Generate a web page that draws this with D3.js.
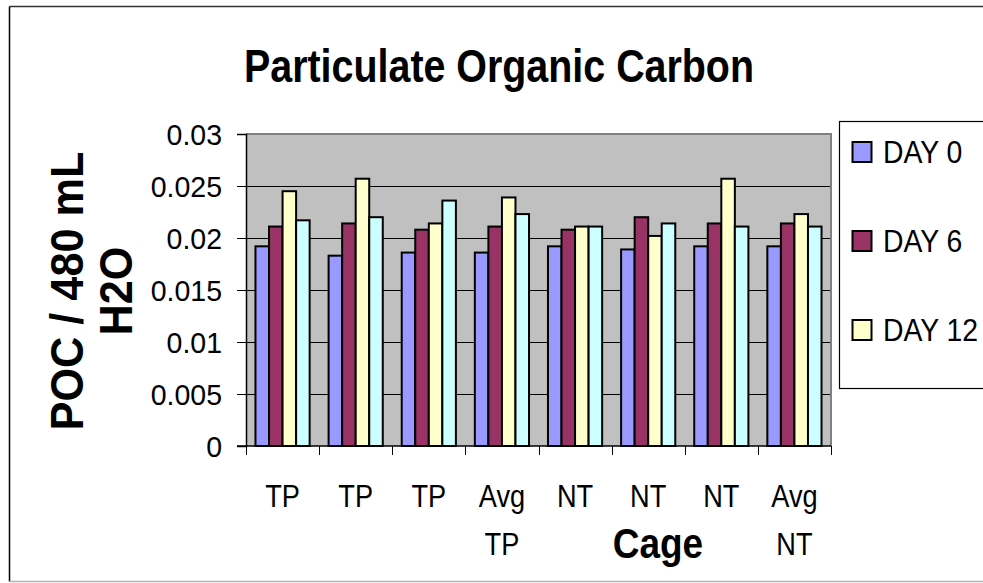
<!DOCTYPE html>
<html>
<head>
<meta charset="utf-8">
<script src="https://cdn.jsdelivr.net/npm/d3@7"></script>
<style>
  html, body { margin: 0; padding: 0; background: #fff; }
  svg { display: block; font-family: "Liberation Sans", Arial, sans-serif; }
</style>
</head>
<body>
<svg id="chart" width="983" height="583"></svg>
<script>
// categories (each label can wrap to two lines)
const cages = [["TP"], ["TP"], ["TP"], ["Avg", "TP"], ["NT"], ["NT"], ["NT"], ["Avg", "NT"]];
const seriesNames = ["DAY 0", "DAY 6", "DAY 12", "DAY 18"];
const seriesColors = ["#9999FF", "#993366", "#FFFFCC", "#CCFFFF"];

const day0 = [0.0192, 0.0183, 0.0186, 0.0186, 0.0192, 0.0189, 0.0192, 0.0192];
const day6 = [0.0211, 0.0214, 0.0208, 0.0211, 0.0208, 0.0220, 0.0214, 0.0214];
const day12 = [0.0245, 0.0257, 0.0214, 0.0239, 0.0211, 0.0202, 0.0257, 0.0223];
const day18 = [0.0217, 0.0220, 0.0236, 0.0223, 0.0211, 0.0214, 0.0211, 0.0211];

const yTicks = [0, 0.005, 0.01, 0.015, 0.02, 0.025, 0.03];
const legendCount = 3; // only three entries fit in the legend box

const seriesValues = [day0, day6, day12, day18];
const svg = d3.select("#chart");

const plot = { left: 246, right: 831, top: 134, bottom: 446 };

const x0 = d3.scaleBand()
  .domain(d3.range(cages.length))
  .range([plot.left, plot.right]);

const x1 = d3.scaleBand()
  .domain(d3.range(seriesNames.length))
  .range([0, x0.bandwidth()])
  .paddingOuter(0.7);

const y = d3.scaleLinear().domain([0, 0.03]).range([plot.bottom, plot.top]);

// squeeze text horizontally a bit, the original font is narrower than Arial
function squeeze(sel, k) {
  sel.each(function () {
    const w = this.getComputedTextLength();
    this.setAttribute("textLength", w * k);
    this.setAttribute("lengthAdjust", "spacingAndGlyphs");
  });
}

// outer chart frame
svg.append("line").attr("x1", 9.5).attr("x2", 983).attr("y1", 6.5).attr("y2", 6.5)
  .attr("stroke", "#333").attr("stroke-width", 1.5);
svg.append("line").attr("x1", 9.5).attr("x2", 9.5).attr("y1", 6.5).attr("y2", 581.5)
  .attr("stroke", "#000").attr("stroke-width", 1.5);
svg.append("line").attr("x1", 9.5).attr("x2", 983).attr("y1", 581.5).attr("y2", 581.5)
  .attr("stroke", "#b4b4b4").attr("stroke-width", 1.5);

// plot background
svg.append("rect")
  .attr("x", plot.left).attr("y", plot.top)
  .attr("width", plot.right - plot.left).attr("height", plot.bottom - plot.top)
  .attr("fill", "#C0C0C0");

// gridlines
svg.append("g")
  .selectAll("line")
  .data(yTicks.filter((t) => t > 0 && t < 0.03))
  .join("line")
  .attr("x1", plot.left).attr("x2", plot.right)
  .attr("y1", (d) => Math.round(y(d)) + 0.5).attr("y2", (d) => Math.round(y(d)) + 0.5)
  .attr("stroke", "#000").attr("stroke-width", 1);

// plot border (top and right)
svg.append("path")
  .attr("d", `M${plot.left},${plot.top} H${plot.right} V${plot.bottom}`)
  .attr("fill", "none").attr("stroke", "#808080").attr("stroke-width", 2);

// bars
const groups = svg.append("g")
  .selectAll("g")
  .data(cages.map((c, i) => i))
  .join("g")
  .attr("transform", (i) => `translate(${x0(i)},0)`);

groups.selectAll("rect")
  .data((i) => seriesValues.map((vals, s) => ({ s, v: vals[i] })))
  .join("rect")
  .attr("x", (d) => x1(d.s))
  .attr("y", (d) => y(d.v))
  .attr("width", x1.bandwidth())
  .attr("height", (d) => y(0) - y(d.v))
  .attr("fill", (d) => seriesColors[d.s])
  .attr("stroke", "#000")
  .attr("stroke-width", 2);

// y axis
const yAxis = svg.append("g")
  .attr("transform", `translate(${plot.left},0)`)
  .call(d3.axisLeft(y).tickValues(yTicks).tickSize(9).tickPadding(15).tickFormat((d) => String(d)));
yAxis.select(".domain").attr("stroke", "#000").attr("stroke-width", 1.5);
yAxis.selectAll(".tick line").attr("stroke", "#000");
yAxis.selectAll(".tick text")
  .attr("font-size", 30)
  .attr("font-family", "Liberation Sans, Arial, sans-serif")
  .attr("fill", "#000")
  .attr("dy", "0.36em")
  .call(squeeze, 0.95);

// x axis: ticks at band boundaries
const xAxisG = svg.append("g");
xAxisG.append("line")
  .attr("x1", plot.left - 9).attr("x2", plot.right)
  .attr("y1", plot.bottom).attr("y2", plot.bottom)
  .attr("stroke", "#000").attr("stroke-width", 1.5);
xAxisG.selectAll("line.tk")
  .data(d3.range(cages.length + 1))
  .join("line")
  .attr("class", "tk")
  .attr("x1", (i) => Math.round(plot.left + i * x0.step()) + 0.5)
  .attr("x2", (i) => Math.round(plot.left + i * x0.step()) + 0.5)
  .attr("y1", plot.bottom).attr("y2", plot.bottom + 9)
  .attr("stroke", "#000").attr("stroke-width", 1);

// category labels
const labels = svg.append("g")
  .selectAll("text")
  .data(cages.map((c, i) => ({ c, i })))
  .join("text")
  .attr("text-anchor", "middle")
  .attr("font-size", 32)
  .attr("fill", "#000");
labels.selectAll("tspan")
  .data((d) => d.c.map((t, k) => ({ t, k, i: d.i })))
  .join("tspan")
  .attr("x", (d) => x0(d.i) + x0.bandwidth() / 2)
  .attr("y", (d) => 507 + d.k * 48)
  .text((d) => d.t);
labels.each(function () {
  d3.select(this).selectAll("tspan").each(function () {
    const w = this.getComputedTextLength();
    this.setAttribute("textLength", w * 0.85);
    this.setAttribute("lengthAdjust", "spacingAndGlyphs");
  });
});

// title
svg.append("text")
  .attr("x", 499).attr("y", 82)
  .attr("text-anchor", "middle")
  .attr("font-size", 46)
  .attr("font-weight", "bold")
  .attr("textLength", 510)
  .attr("lengthAdjust", "spacingAndGlyphs")
  .text("Particulate Organic Carbon");

// axis titles
svg.append("text")
  .attr("x", 658).attr("y", 558)
  .attr("text-anchor", "middle")
  .attr("font-size", 42)
  .attr("font-weight", "bold")
  .text("Cage")
  .call(squeeze, 0.88);

const yTitle = ["POC / 480 mL", "H2O"];
svg.append("g")
  .selectAll("text")
  .data(yTitle)
  .join("text")
  .attr("transform", (d, i) => `translate(${83 + i * 48.5},291) rotate(-90)`)
  .attr("text-anchor", "middle")
  .attr("font-size", 46)
  .attr("font-weight", "bold")
  .text((d) => d)
  .call(squeeze, 0.94);

// legend
const legend = svg.append("g");
legend.append("rect")
  .attr("x", 839.5).attr("y", 121.5)
  .attr("width", 200).attr("height", 267)
  .attr("fill", "#fff").attr("stroke", "#000").attr("stroke-width", 1.2);

const legendItems = legend.selectAll("g.item")
  .data(seriesNames.slice(0, legendCount))
  .join("g")
  .attr("class", "item")
  .attr("transform", (d, i) => `translate(0,${152 + i * 89})`);
legendItems.append("rect")
  .attr("x", 852.5).attr("y", -10)
  .attr("width", 19).attr("height", 20)
  .attr("fill", (d, i) => seriesColors[i])
  .attr("stroke", "#000").attr("stroke-width", 2);
legendItems.append("text")
  .attr("x", 883).attr("y", 11)
  .attr("font-size", 31)
  .text((d) => d)
  .call(squeeze, 0.915);
</script>
</body>
</html>
